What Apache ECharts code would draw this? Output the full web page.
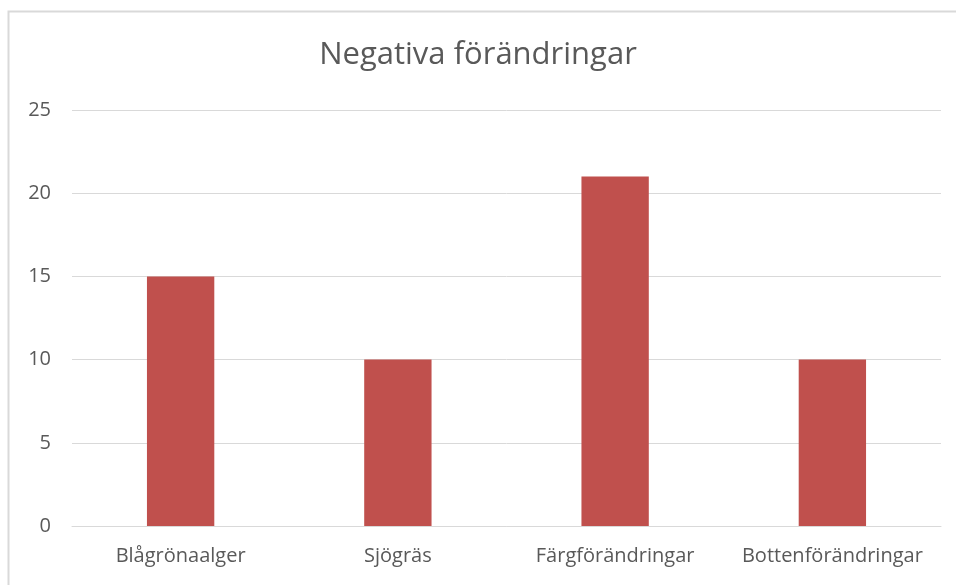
<!DOCTYPE html>
<html>
<head>
<meta charset="utf-8">
<script src="https://cdn.jsdelivr.net/npm/echarts@6/dist/echarts.min.js"></script>
<style>
  html, body { margin: 0; padding: 0; background: #fff; }
  #chart { width: 956px; height: 585px; }
</style>
</head>
<body>
<div id="chart"></div>
<script>
const categories = ['Blågrönaalger', 'Sjögräs', 'Färgförändringar', 'Bottenförändringar']
const values = [15, 10, 21, 10]
const yTicks = { min: 0, max: 25, interval: 5 }

const chart = echarts.init(document.getElementById('chart'))
const font = '"Open Sans", "Noto Sans", sans-serif'

chart.setOption({
  animation: false,
  title: {
    text: 'Negativa förändringar',
    left: 'center',
    top: 35,
    textStyle: { fontFamily: font, fontSize: 31, fontWeight: 'normal', color: '#595959' }
  },
  // light frame around the chart area (only left and top visible)
  graphic: [{
    type: 'rect',
    shape: { x: 8.5, y: 11.5, width: 1000, height: 1000 },
    style: { fill: 'none', stroke: '#d9d9d9', lineWidth: 2 },
    silent: true
  }],
  grid: { left: 72, right: 15, top: 110, bottom: 59 },
  xAxis: {
    type: 'category',
    data: categories,
    axisTick: { show: false },
    axisLine: { lineStyle: { color: '#d9d9d9', width: 1 } },
    axisLabel: { interval: 0, fontFamily: font, fontSize: 20, color: '#595959', margin: 20 }
  },
  yAxis: {
    type: 'value',
    min: yTicks.min,
    max: yTicks.max,
    interval: yTicks.interval,
    axisLine: { show: false },
    axisTick: { show: false },
    splitLine: { lineStyle: { color: '#d9d9d9', width: 1 } },
    axisLabel: { fontFamily: font, fontSize: 20, color: '#595959', margin: 21 }
  },
  series: [{
    type: 'bar',
    data: values,
    barWidth: '31%',
    itemStyle: { color: '#c0504d' }
  }]
})
</script>
</body>
</html>
